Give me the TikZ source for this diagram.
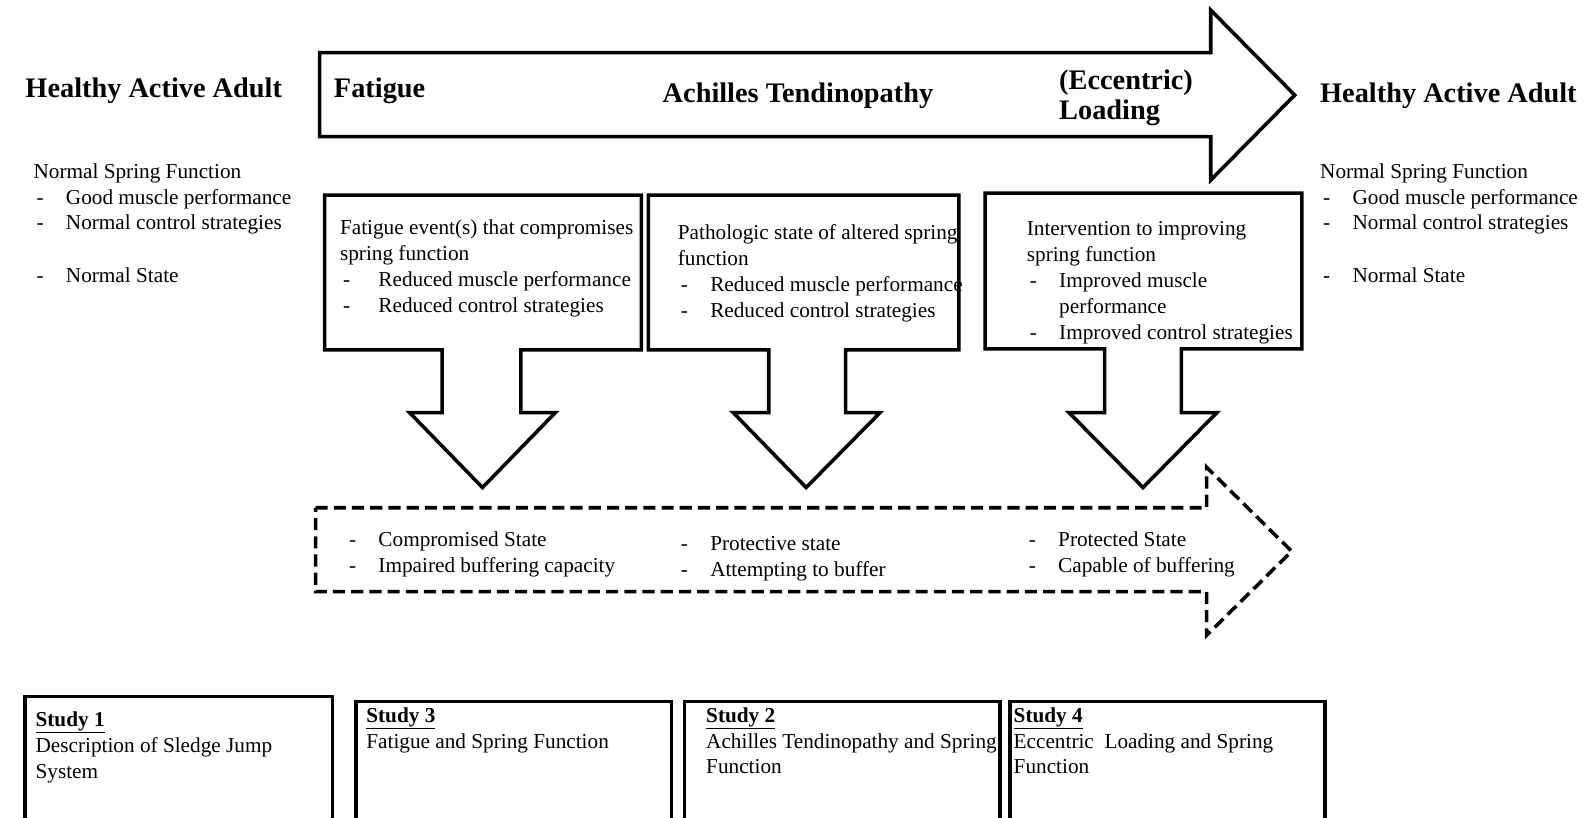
\documentclass[tikz,border=0pt]{standalone}
\usepackage{fontspec}
\setmainfont{Liberation Serif}
\newcommand{\ditem}[2][32pt]{\makebox[#1][l]{\hspace{3pt}-}#2}
\newcommand{\dcont}[2][32pt]{\makebox[#1][l]{}#2}
\newcommand{\fst}{\rule{0pt}{16pt}}
\begin{document}
\begin{tikzpicture}[x=1pt,y=-1pt,
  body/.style={font=\fontsize{21}{25.5}\selectfont, inner sep=0pt, anchor=north west, align=left},
  ttl/.style={font=\fontsize{28}{30}\selectfont\bfseries, inner sep=0pt, anchor=base west},
  solidline/.style={line width=3.5pt, line join=miter, draw=black},
  dashline/.style={line width=3.5pt, dash pattern=on 12pt off 6pt, draw=black},
  sbox/.style={draw, line width=3.5pt, anchor=north west, inner sep=0pt}]
\useasboundingbox (0,0) rectangle (1568,808);

% top arrow
\draw[solidline] (316,52) -- (1197,52) -- (1197,10) -- (1280,94) -- (1197,178) -- (1197,135) -- (316,135) -- cycle;
\node[ttl] (hl) at (25,96) {Healthy Active Adult};
\node[ttl] (fat) at (330,96) {Fatigue};
\node[ttl] (ach) at (655,101) {Achilles Tendinopathy};
\node[ttl, anchor=north west, align=left] (ecc) at (1047,68) {\rule{0pt}{20pt}(Eccentric)\\Loading};
\node[ttl] (hr) at (1305,101) {Healthy Active Adult};

% side texts
\node[body] (lt) at (33,160) {\fst Normal Spring Function\\\ditem{Good muscle performance}\\\ditem{Normal control strategies}\\[27pt]\ditem{Normal State}};
\node[body] (rt) at (1305,160) {\fst Normal Spring Function\\\ditem{Good muscle performance}\\\ditem{Normal control strategies}\\[27pt]\ditem{Normal State}};

% callout boxes with down arrows
\draw[solidline] (321,193) -- (634,193) -- (634,346) -- (515,346) -- (515,408) -- (549,408) -- (477,482) -- (405,408) -- (437,408) -- (437,346) -- (321,346) -- cycle;
\draw[solidline] (641,193) -- (948,193) -- (948,346) -- (836,346) -- (836,408) -- (870,408) -- (797,482) -- (725,408) -- (760,408) -- (760,346) -- (641,346) -- cycle;
\draw[solidline] (974,191) -- (1287,191) -- (1287,345) -- (1168,345) -- (1168,408) -- (1203,408) -- (1130,482) -- (1057,408) -- (1092,408) -- (1092,345) -- (974,345) -- cycle;

\node[body] (b1t) at (336,216) {\fst Fatigue event(s) that compromises\\spring function\\\ditem[38pt]{Reduced muscle performance}\\\ditem[38pt]{Reduced control strategies}};
\node[body] (b2t) at (670,221) {\fst Pathologic state of altered spring\\function\\\ditem{Reduced muscle performance}\\\ditem{Reduced control strategies}};
\node[body] (b3t) at (1015,217) {\fst Intervention to improving\\spring function\\\ditem{Improved muscle}\\\dcont{performance}\\\ditem{Improved control strategies}};

% dashed arrow
\draw[dashline] (312,502) -- (1193,502) -- (1193,462) -- (1277,545) -- (1193,628) -- (1193,585) -- (312,585) -- cycle;
\node[body] (d1) at (342,524) {\fst\ditem{Compromised State}\\\ditem{Impaired buffering capacity}};
\node[body] (d2) at (670,528) {\fst\ditem{Protective state}\\\ditem{Attempting to buffer}};
\node[body] (d3) at (1014,524) {\fst\ditem{Protected State}\\\ditem{Capable of buffering}};

% study boxes
\node[sbox, minimum width=304pt, minimum height=160pt] (s1) at (23,687) {};
\node[sbox, minimum width=312pt, minimum height=160pt] (s3) at (350,692) {};
\node[sbox, minimum width=312pt, minimum height=160pt] (s2) at (675,692) {};
\node[sbox, minimum width=311pt, minimum height=160pt] (s4) at (997,692) {};
\node[body] (s1t) at (35,702) {\fst\textbf{\underline{Study 1}}\\Description of Sledge Jump\\System};
\node[body] (s3t) at (362,698) {\fst\textbf{\underline{Study 3}}\\Fatigue and Spring Function};
\node[body] (s2t) at (698,698) {\fst\textbf{\underline{Study 2}}\\Achilles Tendinopathy and Spring\\Function};
\node[body] (s4t) at (1002,698) {\fst\textbf{\underline{Study 4}}\\Eccentric\ \ Loading and Spring\\Function};
\end{tikzpicture}
\end{document}
